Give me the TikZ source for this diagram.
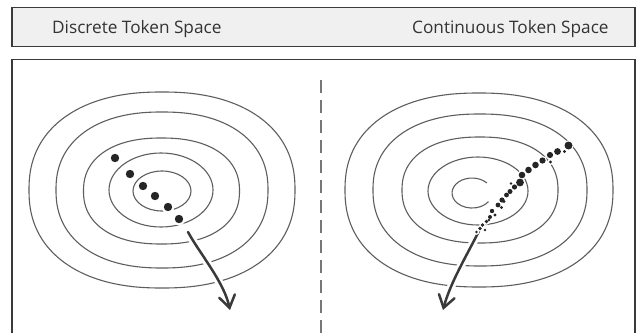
\documentclass[tikz,border=0pt]{standalone}
\usepackage{fontspec}
\setmainfont{Open Sans}
\usetikzlibrary{arrows.meta}
\definecolor{hdrfill}{HTML}{F0F0F0}
\definecolor{framecol}{HTML}{3A3A3A}
\definecolor{contcol}{HTML}{5E5E5E}
\definecolor{dotcol}{HTML}{252525}
\definecolor{txtcol}{HTML}{333333}
\definecolor{dashcol}{HTML}{777777}
\newcommand{\supell}[4]{% cx cy rx ry
  \draw[contour] plot[domain=0.5:360.5, samples=121, smooth cycle]
    ({#1+#3*sign(cos(\x))*abs(cos(\x))^0.88},{#2+#4*sign(sin(\x))*abs(sin(\x))^0.88});}
\begin{document}
\begin{tikzpicture}[x=1pt,y=-1pt,
  frame/.style={draw=framecol, line width=1.5pt},
  contour/.style={draw=contcol, line width=1.1pt},
  flow/.style={draw=framecol, line width=2.5pt, line cap=round,
    -{Straight Barb[length=12pt,width=16pt,line cap=round]}},
  flowhalo/.style={draw=white, line width=8pt},
  hdrlabel/.style={font=\fontsize{17.2}{20}\selectfont, text=txtcol, anchor=base west, inner sep=0pt}]
\clip (0,0) rectangle (642,332);
\fill[white] (0,0) rectangle (642,332);

% header
\draw[frame, fill=hdrfill] (12,7.5) rectangle (635,46.5);
\node[hdrlabel] (dlabel) at (52,33.5) {Discrete Token Space};
\node[hdrlabel] (clabel) at (412,33.5) {Continuous Token Space};

% main frame
\draw[frame] (12,59.5) rectangle (635,345);
\draw[dashcol, line width=1.5pt, dash pattern=on 13pt off 7pt] (321,80) -- (321,340);

% left contours
\supell{162}{190}{133}{98}
\supell{162}{190}{106}{78}
\supell{161.5}{191}{78}{53}
\draw[contour] (161,190) ellipse [x radius=52, y radius=37];
\draw[contour] (162,191) ellipse [x radius=29, y radius=20];

% right contours
\supell{479}{190}{134}{97}
\supell{480}{190}{107}{76}
\supell{480}{190}{78}{53}
\draw[contour] (478,191) ellipse [x radius=50, y radius=34];
\draw[contour] (486.9,183.0) arc[start angle=318, end angle=35, x radius=20, y radius=15];

% arrows
\coordinate (ls) at (188,232);
\coordinate (le) at (230,310);
\coordinate (rs) at (479,231);
\coordinate (re) at (443,310);
\draw[flowhalo] (ls) .. controls (200,254) and (224,282) .. (le);
\draw[flowhalo] (rs) .. controls (466.4,256) and (450.3,282.8) .. (re);
\draw[flow] (ls) .. controls (200,254) and (224,282) .. (le);
\draw[flow] (rs) .. controls (466.4,256) and (450.3,282.8) .. (re);

% left dots
\foreach \x/\y in {115/158,130/174,143/186,155/196,168/207,179/219}{
  \fill[white] (\x,\y) circle (6.4);
  \fill[dotcol] (\x,\y) circle (4.2);
}

% right dots (trail)
\def\trail{
  568.5/145.5/4.0, 564.5/151.5/1.6, 557.5/151.5/3.4, 550/155/3.1, 550.5/162/1.6,
  542.5/160.5/3.1, 535.5/165/3.3, 528.5/170/3.3, 522/175/3.3, 520/182.5/3.9,
  514.5/187/2.6, 511/183.5/1.4, 510/191.5/2.5, 506.5/195/2.4, 504/201.5/1.6,
  502/200/2.6, 498/205/2.4, 501.5/207.5/1.7, 492/211/2.2, 495/215/1.7,
  490/217/2.0, 486.5/221.5/1.9, 489/220/1.4, 482.5/225/1.8, 480/228.5/1.8,
  485/230/1.3, 476.5/232/1.4}
\foreach \x/\y/\r in \trail { \fill[white] (\x,\y) circle ({\r+1.4}); }
\foreach \x/\y/\r in \trail { \fill[dotcol] (\x,\y) circle (\r); }
\end{tikzpicture}
\end{document}
